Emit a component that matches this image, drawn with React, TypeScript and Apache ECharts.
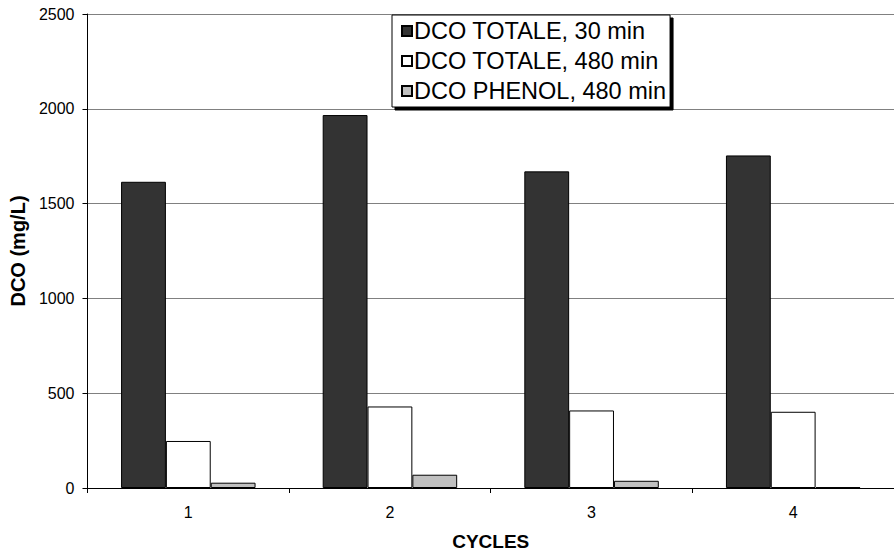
import React, { useEffect, useRef } from "react";
import * as echarts from "echarts";

const categories = ["1", "2", "3", "4"];
const dcoTotale30 = [1615, 1967, 1670, 1754];
const dcoTotale480 = [248, 430, 409, 402];
const dcoPhenol480 = [28, 70, 38, 4];
const seriesNames = ["DCO TOTALE, 30 min", "DCO TOTALE, 480 min", "DCO PHENOL, 480 min"];
const yTicks = [0, 500, 1000, 1500, 2000, 2500];

const FONT = "Arial, 'Liberation Sans', sans-serif";

export default function App() {
  const ref = useRef<HTMLDivElement>(null);
  useEffect(() => {
    if (!ref.current) return;
    const chart = echarts.init(ref.current, null, { renderer: "svg" });
    const mk = (name: string, data: number[], color: string) => ({
      type: "bar",
      name,
      data,
      barGap: "0%",
      barCategoryGap: "33.3%",
      itemStyle: { color, borderColor: "#000", borderWidth: 1 },
    });
    chart.setOption({
      animation: false,
      backgroundColor: "#fff",
      textStyle: { fontFamily: FONT },
      grid: { left: 86, right: -8, top: 14, bottom: 66 },
      legend: {
        orient: "vertical",
        left: 392,
        top: 15,
        padding: [3, 4, 3, 9],
        icon: "rect",
        itemWidth: 10,
        itemHeight: 10,
        itemGap: 4,
        backgroundColor: "#fff",
        borderColor: "#000",
        borderWidth: 1,
        shadowColor: "#000",
        shadowBlur: 0,
        shadowOffsetX: 3,
        shadowOffsetY: 3,
        textStyle: { fontFamily: FONT, fontSize: 23.5, color: "#000", lineHeight: 26, padding: [0, 0, 0, -3] },
        data: seriesNames,
      },
      xAxis: {
        type: "category",
        data: categories,
        name: "CYCLES",
        nameLocation: "middle",
        nameGap: 44,
        nameTextStyle: { fontFamily: FONT, fontSize: 19, fontWeight: "bold", color: "#000" },
        axisLine: { lineStyle: { color: "#000", width: 1 } },
        axisTick: { show: true, length: 5, lineStyle: { color: "#000" } },
        axisLabel: { fontFamily: FONT, fontSize: 16, color: "#000", margin: 16 },
      },
      yAxis: {
        type: "value",
        min: yTicks[0],
        max: yTicks[yTicks.length - 1],
        interval: yTicks[1] - yTicks[0],
        name: "DCO (mg/L)",
        nameLocation: "middle",
        nameGap: 57,
        nameTextStyle: { fontFamily: FONT, fontSize: 20, fontWeight: "bold", color: "#000" },
        axisLine: { show: true, lineStyle: { color: "#000", width: 1 } },
        axisTick: { show: true, length: 5, lineStyle: { color: "#000" } },
        axisLabel: { fontFamily: FONT, fontSize: 16, color: "#000", margin: 13, formatter: (v: number) => String(v) },
        splitLine: { show: true, lineStyle: { color: "#808080", width: 1 } },
      },
      series: [
        mk(seriesNames[0], dcoTotale30, "#333333"),
        mk(seriesNames[1], dcoTotale480, "#ffffff"),
        mk(seriesNames[2], dcoPhenol480, "#c0c0c0"),
      ],
    });
    return () => chart.dispose();
  }, []);
  return <div ref={ref} style={{ position: "fixed", left: 0, top: 0, width: 894, height: 556 }} />;
}
